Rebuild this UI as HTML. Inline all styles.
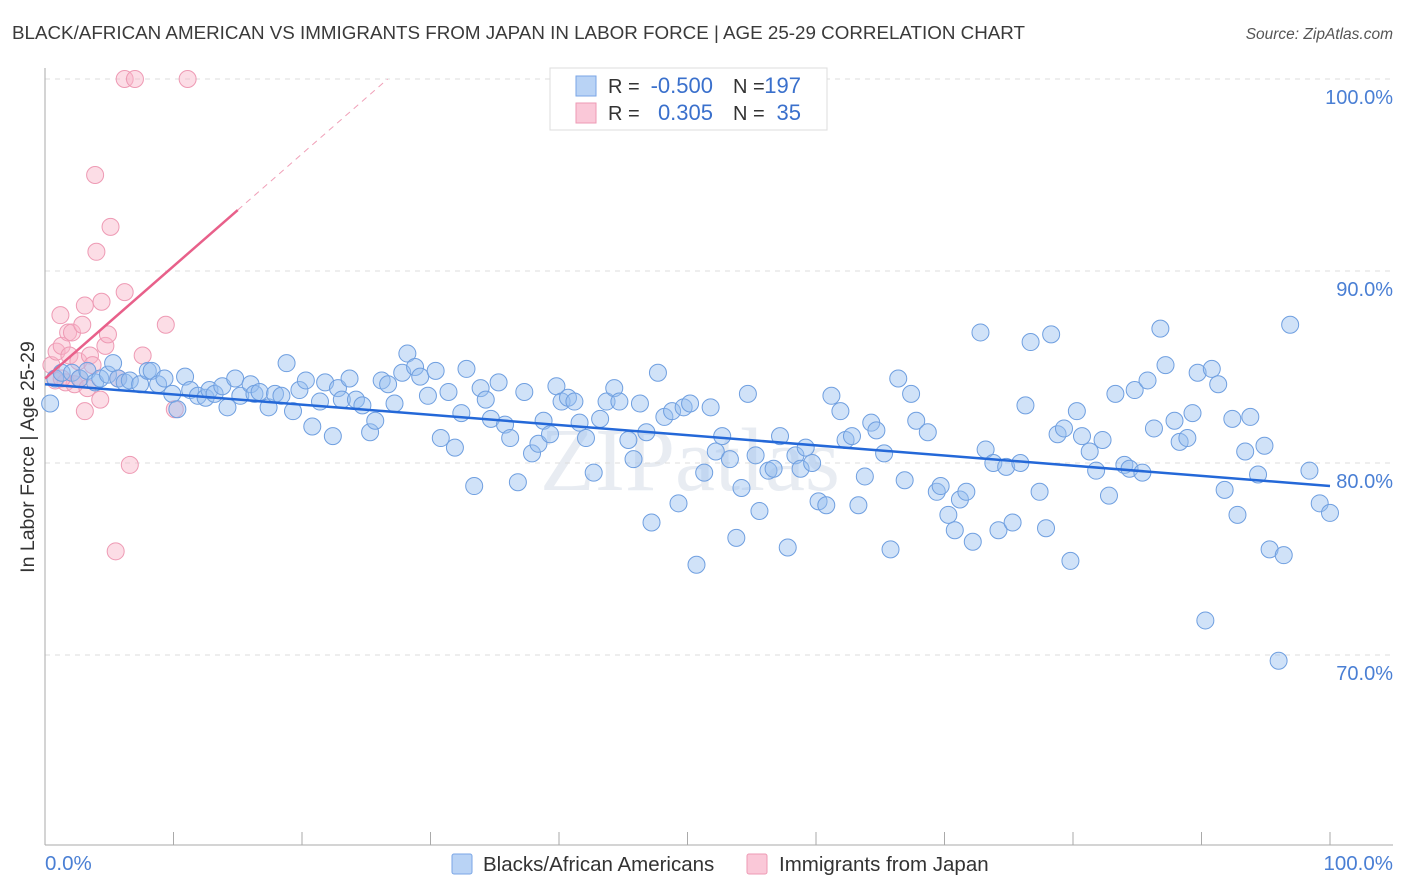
<!DOCTYPE html>
<html><head><meta charset="utf-8"><style>
body{margin:0;background:#fff;font-family:"Liberation Sans",sans-serif;}
#wrap{position:relative;width:1406px;height:892px;overflow:hidden;}
</style></head><body>
<div id="wrap">
<svg id="chart" width="1406" height="892" xmlns="http://www.w3.org/2000/svg">
<text x="12" y="39" font-size="18.8" fill="#3a3a3a">BLACK/AFRICAN AMERICAN VS IMMIGRANTS FROM JAPAN IN LABOR FORCE | AGE 25-29 CORRELATION CHART</text>
<text x="1393" y="39" font-size="15.5" fill="#555" font-style="italic" text-anchor="end">Source: ZipAtlas.com</text>
<text x="690" y="490" font-size="90" fill="#e8ecf2" text-anchor="middle" font-family="Liberation Serif, serif">ZIPatlas</text>
<g id="grid"></g><g id="axes"></g><g id="pinkpts"></g><g id="bluepts"></g><g id="trends"></g>
<text transform="translate(34,457) rotate(-90)" font-size="19.5" fill="#333" text-anchor="middle">In Labor Force | Age 25-29</text>
<text x="45" y="870" font-size="20.5" fill="#4a7fd4">0.0%</text>
<text x="1393" y="870" font-size="20.5" fill="#4a7fd4" text-anchor="end">100.0%</text>
<g>
<rect x="452" y="854" width="20" height="20" rx="2" fill="#b9d3f5" stroke="#7aa6e6"/>
<text x="483" y="871" font-size="20.5" fill="#333">Blacks/African Americans</text>
<rect x="747" y="854" width="20" height="20" rx="2" fill="#fac8d8" stroke="#ee9ab4"/>
<text x="779" y="871" font-size="20.5" fill="#333">Immigrants from Japan</text>
</g>
<g>
<rect x="550" y="68" width="277" height="62" fill="#fff" stroke="#ddd"/>
<rect x="576" y="76" width="20" height="20" fill="#b9d3f5" stroke="#7aa6e6"/>
<rect x="576" y="103" width="20" height="20" fill="#fac8d8" stroke="#ee9ab4"/>
<text x="608" y="93" font-size="20" fill="#333">R =</text>
<text x="713" y="93" font-size="22" fill="#3a70cc" text-anchor="end">-0.500</text>
<text x="733" y="93" font-size="20" fill="#333">N =</text>
<text x="801" y="93" font-size="22" fill="#3a70cc" text-anchor="end">197</text>
<text x="608" y="120" font-size="20" fill="#333">R =</text>
<text x="713" y="120" font-size="22" fill="#3a70cc" text-anchor="end">0.305</text>
<text x="733" y="120" font-size="20" fill="#333">N =</text>
<text x="801" y="120" font-size="22" fill="#3a70cc" text-anchor="end">35</text>
</g>
</svg>
</div>
<script>
const yTicks=[100,90,80,70];
const yTickLabels=["100.0%","90.0%","80.0%","70.0%"];
const xTicks=[0,10,20,30,40,50,60,70,80,90,100];
const blueX=[0.4,0.8,1.3,2.1,2.7,3.3,3.9,4.3,4.9,5.3,5.7,6.2,6.6,7.4,8.0,8.3,8.8,9.3,9.9,10.3,10.9,11.3,11.9,12.5,12.8,13.2,13.8,14.2,14.8,15.2,16.0,16.3,16.7,17.4,17.9,18.4,18.8,19.3,19.8,20.3,20.8,21.4,21.8,22.4,22.8,23.1,23.7,24.2,24.7,25.3,25.7,26.2,26.7,27.2,27.8,28.2,28.8,29.2,29.8,30.4,30.8,31.4,31.9,32.4,32.8,33.4,33.9,34.3,34.7,35.3,35.8,36.2,36.8,37.3,37.9,38.4,38.8,39.3,39.8,40.2,40.7,41.2,41.6,42.1,42.7,43.2,43.7,44.3,44.7,45.4,45.8,46.3,46.8,47.2,47.7,48.2,48.8,49.3,49.7,50.2,50.7,51.3,51.8,52.2,52.7,53.3,53.8,54.2,54.7,55.3,55.6,56.3,56.7,57.2,57.8,58.4,58.8,59.2,59.7,60.2,60.8,61.2,61.9,62.3,62.8,63.3,63.8,64.3,64.7,65.3,65.8,66.4,66.9,67.4,67.8,68.7,69.4,69.7,70.3,70.8,71.2,71.7,72.2,72.8,73.2,73.8,74.2,74.8,75.3,75.9,76.3,76.7,77.4,77.9,78.3,78.8,79.3,79.8,80.3,80.7,81.3,81.8,82.3,82.8,83.3,84.0,84.4,84.8,85.4,85.8,86.3,86.8,87.2,87.9,88.3,88.9,89.3,89.7,90.3,90.8,91.3,91.8,92.4,92.8,93.4,93.8,94.4,94.9,95.3,96.0,96.4,96.9,98.4,99.2,100];
const blueY=[83.1,84.4,84.7,84.7,84.4,84.8,84.2,84.4,84.6,85.2,84.4,84.2,84.3,84.1,84.8,84.8,84.1,84.4,83.6,82.8,84.5,83.8,83.5,83.4,83.8,83.6,84.0,82.9,84.4,83.5,84.1,83.6,83.7,82.9,83.6,83.5,85.2,82.7,83.8,84.3,81.9,83.2,84.2,81.4,83.9,83.3,84.4,83.3,83.0,81.6,82.2,84.3,84.1,83.1,84.7,85.7,85.0,84.5,83.5,84.8,81.3,83.7,80.8,82.6,84.9,78.8,83.9,83.3,82.3,84.2,82.0,81.3,79.0,83.7,80.5,81.0,82.2,81.5,84.0,83.2,83.4,83.2,82.1,81.3,79.5,82.3,83.2,83.9,83.2,81.2,80.2,83.1,81.6,76.9,84.7,82.4,82.7,77.9,82.9,83.1,74.7,79.5,82.9,80.6,81.4,80.2,76.1,78.7,83.6,80.4,77.5,79.6,79.7,81.4,75.6,80.4,79.7,80.8,80.0,78.0,77.8,83.5,82.7,81.2,81.4,77.8,79.3,82.1,81.7,80.5,75.5,84.4,79.1,83.6,82.2,81.6,78.5,78.8,77.3,76.5,78.1,78.5,75.9,86.8,80.7,80.0,76.5,79.8,76.9,80.0,83.0,86.3,78.5,76.6,86.7,81.5,81.8,74.9,82.7,81.4,80.6,79.6,81.2,78.3,83.6,79.9,79.7,83.8,79.5,84.3,81.8,87.0,85.1,82.2,81.1,81.3,82.6,84.7,71.8,84.9,84.1,78.6,82.3,77.3,80.6,82.4,79.4,80.9,75.5,69.7,75.2,87.2,79.6,77.9,77.4];
const pinkX=[0.5,0.8,0.9,1.2,1.3,1.6,1.8,1.9,2.1,2.3,2.6,2.7,2.9,3.1,3.3,3.5,3.7,3.9,4.0,4.3,4.4,4.7,4.9,5.1,5.5,6.2,6.2,6.6,7.0,7.6,9.4,10.1,11.1,5.7,1.3,3.1];
const pinkY=[85.1,84.3,85.8,87.7,86.1,84.2,86.8,85.6,86.8,84.1,85.3,84.4,87.2,88.2,83.9,85.6,85.1,95.0,91.0,83.3,88.4,86.1,86.7,92.3,75.4,88.9,100,79.9,100,85.6,87.2,82.8,100,84.4,84.4,82.7];
const blueTrend=[84.1,78.8];
const pinkTrend=[84.4,0.585];
const pinkSolidEnd=15;

const X0=45,X1=1330,Y100=79,PX_PER=19.2;
function xs(v){return X0+(X1-X0)*v/100;}
function ys(v){return Y100+(100-v)*PX_PER;}
const NS="http://www.w3.org/2000/svg";
function mk(tag,parent,attrs){const e=document.createElementNS(NS,tag);for(const k in attrs)e.setAttribute(k,attrs[k]);parent.appendChild(e);return e;}
const grid=document.getElementById('grid'),axes=document.getElementById('axes');
yTicks.forEach((t,i)=>{
  const l=mk('line',grid,{x1:45,x2:1393,y1:ys(t),y2:ys(t),stroke:'#dcdcdc','stroke-dasharray':'5,5'});
  
  
  const tx=mk('text',grid,{x:1393,y:ys(t)+25,'font-size':20,fill:'#4a7fd4','text-anchor':'end'});
  tx.textContent=yTickLabels[i];
  
  
});
const ya=mk('line',axes,{x1:45,x2:45,y1:68,y2:845,stroke:'#aaa'});


const xa=mk('line',axes,{x1:45,x2:1393,y1:845,y2:845,stroke:'#aaa'});


xTicks.forEach(t=>{
  const l=mk('line',axes,{x1:xs(t),x2:xs(t),y1:832,y2:845,stroke:'#aaa'});
  
  
});
const pg=document.getElementById('pinkpts');
pinkX.forEach((v,i)=>{
  const c=mk('circle',pg,{cx:xs(v),cy:ys(pinkY[i]),r:8.5,fill:'rgba(248,180,200,0.45)',stroke:'#ee9ab4','stroke-width':1});
  
  
});
const bg=document.getElementById('bluepts');
blueX.forEach((v,i)=>{
  const c=mk('circle',bg,{cx:xs(v),cy:ys(blueY[i]),r:8.5,fill:'rgba(150,190,240,0.45)',stroke:'#6f9fe0','stroke-width':1});
  
  
});
const tg=document.getElementById('trends');
const bt=mk('line',tg,{x1:xs(0),y1:ys(blueTrend[0]),x2:xs(100),y2:ys(blueTrend[1]),stroke:'#2468d8','stroke-width':2.5});


const pend=(100-pinkTrend[0])/pinkTrend[1];
const pt=mk('line',tg,{x1:xs(0),y1:ys(pinkTrend[0]),x2:xs(pinkSolidEnd),y2:ys(pinkTrend[0]+pinkTrend[1]*pinkSolidEnd),stroke:'#e8608a','stroke-width':2.5});


const pd=mk('line',tg,{x1:xs(pinkSolidEnd),y1:ys(pinkTrend[0]+pinkTrend[1]*pinkSolidEnd),x2:xs(pend),y2:ys(100),stroke:'#f0a0b8','stroke-width':1,'stroke-dasharray':'6,5'});


</script>
</body></html>
